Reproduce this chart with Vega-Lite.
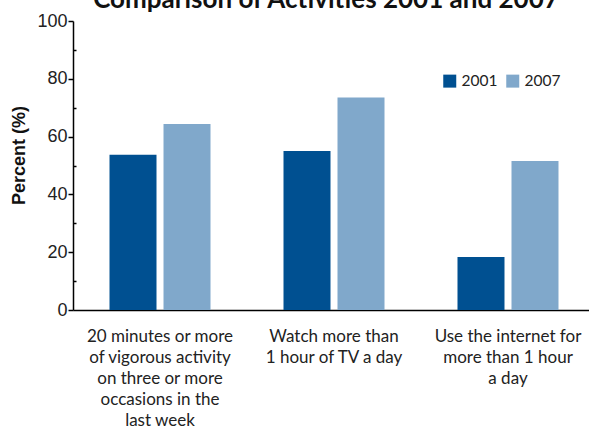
{
  "$schema": "https://vega.github.io/schema/vega-lite/v6.json",
  "width": 522,
  "height": 289,
  "autosize": "none",
  "padding": {"left": 73, "top": 21, "right": 0, "bottom": 116},
  "background": "white",
  "title": {
    "text": "Comparison of Activities 2001 and 2007",
    "font": "Lato",
    "fontSize": 26,
    "fontWeight": "bold",
    "color": "#111111",
    "anchor": "middle",
    "frame": "group",
    "baseline": "alphabetic",
    "offset": 0,
    "dy": 22,
    "dx": -8
  },
  "data": {
    "values": [
      {"activity": "20 minutes or more|of vigorous activity|on three or more|occasions in the|last week", "year": "2001", "percent": 53.7},
      {"activity": "20 minutes or more|of vigorous activity|on three or more|occasions in the|last week", "year": "2007", "percent": 64.4},
      {"activity": "Watch more than|1 hour of TV a day", "year": "2001", "percent": 55.0},
      {"activity": "Watch more than|1 hour of TV a day", "year": "2007", "percent": 73.5},
      {"activity": "Use the internet for|more than 1 hour|a day", "year": "2001", "percent": 18.3},
      {"activity": "Use the internet for|more than 1 hour|a day", "year": "2007", "percent": 51.6}
    ]
  },
  "mark": {"type": "bar"},
  "encoding": {
    "x": {
      "field": "activity",
      "type": "nominal",
      "sort": null,
      "scale": {"paddingInner": 0.4195, "paddingOuter": 0.2098},
      "axis": {
        "title": null,
        "labelAngle": 0,
        "ticks": false,
        "domainColor": "#000000",
        "domainWidth": 1.5,
        "labelExpr": "split(datum.label, '|')",
        "labelFont": "Lato",
        "labelFontSize": 17,
        "labelColor": "#222222",
        "labelLineHeight": 21,
        "labelPadding": 18,
        "labelBaseline": "top",
        "labelLimit": 0
      }
    },
    "xOffset": {
      "field": "year",
      "type": "nominal",
      "scale": {"paddingInner": 0.1296, "paddingOuter": 0}
    },
    "y": {
      "field": "percent",
      "type": "quantitative",
      "scale": {"domain": [0, 100], "nice": false},
      "axis": {
        "title": "Percent (%)",
        "titleFont": "Liberation Sans",
        "titleFontSize": 18,
        "titleFontWeight": "bold",
        "titleColor": "#111111",
        "titleAngle": -90,
        "titleX": -54,
        "titleY": 134,
        "titleAlign": "center",
        "titleBaseline": "middle",
        "values": [0, 10, 20, 30, 40, 50, 60, 70, 80, 90, 100],
        "labelExpr": "datum.value % 20 === 0 ? datum.label : ''",
        "labelFont": "Liberation Sans",
        "labelFontSize": 18,
        "labelColor": "#222222",
        "labelPadding": 1,
        "grid": false,
        "domainColor": "#000000",
        "domainWidth": 1.5,
        "tickColor": "#000000",
        "tickWidth": 1.5,
        "tickSize": {"condition": {"test": "datum.value % 20 === 0", "value": 5}, "value": -3}
      }
    },
    "color": {
      "field": "year",
      "type": "nominal",
      "scale": {"domain": ["2001", "2007"], "range": ["#005091", "#80A8CB"]},
      "legend": {
        "title": null,
        "orient": "none",
        "direction": "horizontal",
        "legendX": 369,
        "legendY": 52,
        "symbolType": "square",
        "symbolSize": 169,
        "symbolStrokeWidth": 0,
        "symbolOpacity": 1,
        "labelFont": "Lato",
        "labelFontSize": 15.5,
        "labelColor": "#222222",
        "labelOffset": 4,
        "columnPadding": 7
      }
    }
  },
  "config": {"view": {"stroke": null}}
}
